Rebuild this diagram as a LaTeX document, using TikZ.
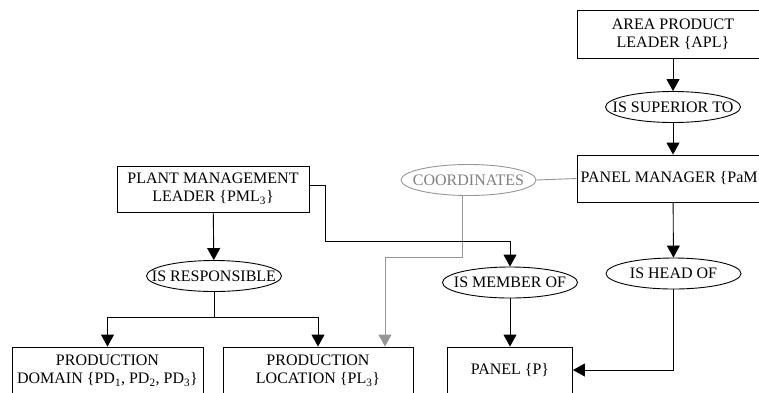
\documentclass[tikz,border=0pt]{standalone}
\usepackage{fontspec}
\setmainfont{Liberation Serif}
\usetikzlibrary{shapes.geometric,arrows.meta}
\definecolor{lgray}{RGB}{150,150,150}
\definecolor{tgray}{RGB}{128,128,128}
\begin{document}
\begin{tikzpicture}[x=1pt,y=-1pt,
  every node/.style={font=\fontsize{16}{18}\selectfont},
  ebox/.style={draw, line width=0.9pt, rectangle, inner sep=0pt, align=center},
  rel/.style={draw, line width=0.9pt, ellipse, inner sep=0pt, minimum width=135pt, minimum height=31pt},
  arr/.style={line width=0.9pt, -{Triangle[width=13pt,length=12pt]}},
  conn/.style={line width=0.9pt},
  garr/.style={line width=0.9pt, draw=lgray, -{Triangle[width=13pt,length=12pt]}},
  gconn/.style={line width=0.9pt, draw=lgray}]
\useasboundingbox (0,0) rectangle (759,392);
\clip (0,0) rectangle (759,392);

% entity boxes
\node[ebox, minimum width=192pt, minimum height=48pt] (apl) at (673,34) {AREA PRODUCT\\LEADER \{APL\}};
\node[ebox, minimum width=192pt, minimum height=47pt] (pam) at (673,178.5) {PANEL MANAGER \{PaM\}};
\node[ebox, minimum width=192pt, minimum height=46pt] (pml) at (213,189) {PLANT MANAGEMENT\\LEADER \{PML\textsubscript{3}\}};
\node[ebox, minimum width=191pt, minimum height=47pt] (pd) at (107.5,370.5) {PRODUCTION\\DOMAIN \{PD\textsubscript{1}, PD\textsubscript{2}, PD\textsubscript{3}\}};
\node[ebox, minimum width=190pt, minimum height=47pt] (pl) at (318,370.5) {PRODUCTION\\LOCATION \{PL\textsubscript{3}\}};
\node[ebox, minimum width=125pt, minimum height=46pt] (panel) at (510,370) {PANEL \{P\}};

% relationship ellipses
\node[rel] (sup) at (673,107) {\makebox[0pt]{IS SUPERIOR TO}};
\node[rel, draw=lgray, text=tgray] (coord) at (468.5,180) {\makebox[0pt]{COORDINATES}};
\node[rel] (resp) at (214,276) {\makebox[0pt]{IS RESPONSIBLE}};
\node[rel] (mem) at (510,282.5) {\makebox[0pt]{IS MEMBER OF}};
\node[rel] (head) at (673.5,273.5) {\makebox[0pt]{IS HEAD OF}};

% helper coordinates
\coordinate (c1) at (325,241);
\coordinate (g1) at (385,257);
\coordinate (split) at (214,317);

% connectors
\draw[arr] (apl) -- (sup);
\draw[arr] (sup) -- (pam);
\draw[arr] (pam) -- (head);
\draw[arr] (head.south) |- (panel.east);
\draw[arr] (mem) -- (panel);
\draw[arr] (pml) -- (resp);
\draw[conn] (resp.south) -- (split);
\draw[arr] (split) -| (pd.north);
\draw[arr] (split) -| (pl.north);
\draw[gconn] (coord.east) -- (pam.west);
\draw[garr] ([xshift=-6pt]coord.south) |- (g1) -- (g1 |- pl.north);
\draw[arr] ([yshift=4pt]pml.east) -| (c1) -| (mem.north);
\end{tikzpicture}
\end{document}
